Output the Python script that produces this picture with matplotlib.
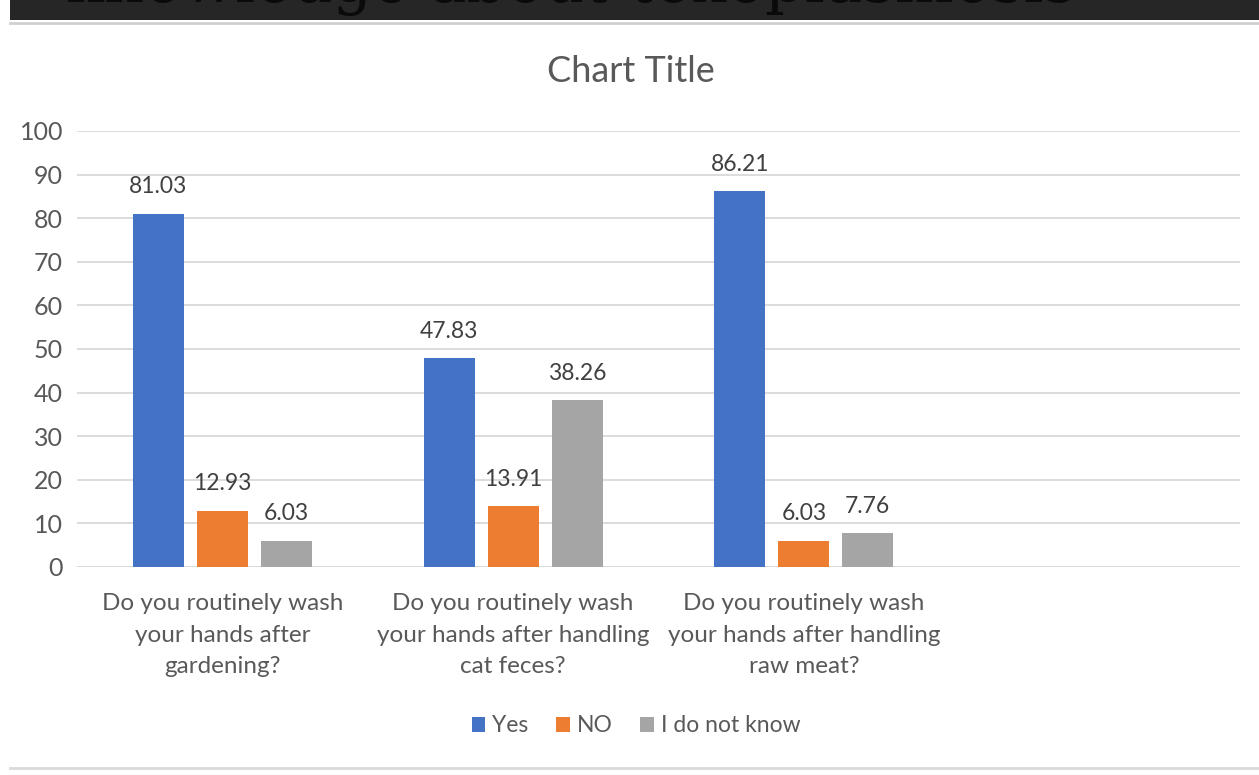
import matplotlib
matplotlib.use("Agg")
import matplotlib.pyplot as plt
import numpy as np

categories = ["Do you routinely wash\nyour hands after\ngardening?",
              "Do you routinely wash\nyour hands after handling\ncat feces?",
              "Do you routinely wash\nyour hands after handling\nraw meat?"]
series_names = ["Yes", "NO", "I do not know"]
yes_vals = [81.03, 47.83, 86.21]
no_vals = [12.93, 13.91, 6.03]
dk_vals = [6.03, 38.26, 7.76]
colors = ["#4472C4", "#ED7D31", "#A5A5A5"]
yticks = list(range(0, 101, 10))

plt.rcParams['font.family'] = ['Lato', 'DejaVu Sans']
txt = "#595959"

W, H = 1259, 775
fig = plt.figure(figsize=(W/100, H/100), dpi=100)
fig.patch.set_facecolor("white")

# top dark band with cropped heading
band = fig.add_axes([10/W, 1-20/H, 1-10/W, 20/H])
band.set_facecolor("#262626")
band.set_xlim(0, 1); band.set_ylim(0, 1)
band.set_xticks([]); band.set_yticks([])
for s in band.spines.values():
    s.set_visible(False)
band.text(0.045, 0.2, "knowledge about toxoplasmosis", family="DejaVu Serif",
          fontsize=45, color="#0a0a0a", va="bottom", ha="left", clip_on=True)
fig.add_artist(plt.Line2D([10/W, 1], [1-22.5/H, 1-22.5/H], color="#D0D0D0", lw=2))
fig.add_artist(plt.Line2D([10/W, 1], [1-768/H, 1-768/H], color="#D9D9D9", lw=2))

ax = fig.add_axes([77/W, 1-567/H, (1240-77)/W, (567-131)/H])
x = np.arange(len(categories))
offset = 0.22
width = 0.175
all_vals = [yes_vals, no_vals, dk_vals]
for i, (vals, name, c) in enumerate(zip(all_vals, series_names, colors)):
    bars = ax.bar(x + (i-1)*offset, vals, width, color=c, label=name, zorder=3)
    for b, v in zip(bars, vals):
        ax.annotate(f"{v:.2f}", (b.get_x()+b.get_width()/2, v), xytext=(0, 19.5),
                    textcoords="offset points", ha="center", va="center",
                    fontsize=16.5, color="#404040")

ax.set_xlim(-0.5, 3.5)
ax.set_ylim(0, 100)
ax.set_yticks(yticks)
ax.set_yticklabels([str(t) for t in yticks], fontsize=18, color=txt)
ax.yaxis.grid(True, color="#D9D9D9", lw=1.3, zorder=0)
ax.set_xticks(x)
ax.set_xticklabels(categories, fontsize=17.5, color=txt, linespacing=1.62)
ax.tick_params(axis="both", length=0)
ax.tick_params(axis="y", pad=10)
ax.tick_params(axis="x", pad=19)
for s in ax.spines.values():
    s.set_visible(False)
ax.axhline(0, color="#D9D9D9", lw=1.3, zorder=2)

fig.text(631/W, 1-72/H, "Chart Title", ha="center", va="center", fontsize=26, color=txt)

leg = fig.legend(loc="center", bbox_to_anchor=(636/W, 1-726/H), ncol=3, frameon=False,
                 fontsize=16.5, handlelength=0.6, handleheight=0.6, handletextpad=0.3,
                 columnspacing=1.2, labelcolor=txt)

fig.savefig("out.png", dpi=100)
